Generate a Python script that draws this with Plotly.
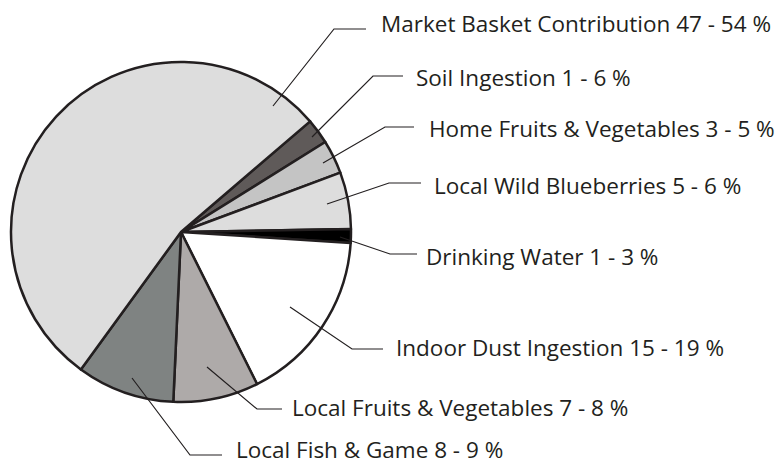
import plotly.graph_objects as go

W, H = 783, 465

# Slices in clockwise order starting at the Soil Ingestion edge
labels = ["Soil Ingestion 1 - 6 %", "Home Fruits & Vegetables 3 - 5 %",
          "Local Wild Blueberries 5 - 6 %", "Drinking Water 1 - 3 %",
          "Indoor Dust Ingestion 15 - 19 %", "Local Fruits & Vegetables 7 - 8 %",
          "Local Fish & Game 8 - 9 %", "Market Basket Contribution 47 - 54 %"]
values = [2.4, 3.2, 5.4, 1.3, 16.6, 8.1, 9.3, 53.7]
colors = ["#5f5a59", "#c4c4c4", "#dddddd", "#000000",
          "#ffffff", "#aeaaa9", "#7f8382", "#dddddd"]
start_angle = 49.4

# Label layout (pixel space): text anchor and leader line (start, kink, end)
label_text_pos = {
    "Market Basket Contribution 47 - 54 %": (379, 23),
    "Soil Ingestion 1 - 6 %": (414, 77),
    "Home Fruits & Vegetables 3 - 5 %": (427, 128),
    "Local Wild Blueberries 5 - 6 %": (432, 185),
    "Drinking Water 1 - 3 %": (424, 256),
    "Indoor Dust Ingestion 15 - 19 %": (394, 347),
    "Local Fruits & Vegetables 7 - 8 %": (290, 407),
    "Local Fish & Game 8 - 9 %": (234, 449),
}
leaders = {
    "Market Basket Contribution 47 - 54 %": [(273, 106), (334, 29), (366, 29)],
    "Soil Ingestion 1 - 6 %": [(312, 137), (373, 76), (403, 76)],
    "Home Fruits & Vegetables 3 - 5 %": [(323, 163), (385, 127), (414, 127)],
    "Local Wild Blueberries 5 - 6 %": [(327, 204), (389, 183), (421, 183)],
    "Drinking Water 1 - 3 %": [(340, 237), (390, 254), (417, 254)],
    "Indoor Dust Ingestion 15 - 19 %": [(290, 307), (352, 349), (383, 349)],
    "Local Fruits & Vegetables 7 - 8 %": [(207, 367), (257, 409), (282, 409)],
    "Local Fish & Game 8 - 9 %": [(132, 378), (190, 455), (222, 455)],
}

cx, cy, R = 181, 232, 170

fig = go.Figure()
fig.add_trace(go.Pie(
    labels=labels, values=values, sort=False, direction="clockwise",
    rotation=start_angle, textinfo="none", hoverinfo="label",
    marker=dict(colors=colors, line=dict(color="#231f20", width=2.5)),
    domain=dict(x=[(cx - R) / W, (cx + R) / W], y=[1 - (cy + R) / H, 1 - (cy - R) / H]),
    showlegend=False,
))

for lab, pts in leaders.items():
    xs = [p[0] for p in pts]
    ys = [p[1] for p in pts]
    path = "M {} {} L {} {} L {} {}".format(xs[0], ys[0], xs[1], ys[1], xs[2], ys[2])
    fig.add_shape(type="path", path=path, xref="x", yref="y",
                  line=dict(color="#231f20", width=1.2))

for lab, (tx, ty) in label_text_pos.items():
    fig.add_annotation(x=tx, y=ty, xref="x", yref="y", text=lab, showarrow=False,
                       xanchor="left", yanchor="middle",
                       font=dict(family="Open Sans", size=22.5, color="#231f20"))

fig.update_layout(
    width=W, height=H, margin=dict(l=0, r=0, t=0, b=0),
    paper_bgcolor="white", plot_bgcolor="rgba(0,0,0,0)",
    xaxis=dict(range=[0, W], visible=False, fixedrange=True),
    yaxis=dict(range=[H, 0], visible=False, fixedrange=True),
)
fig.write_html("out.html", config={"displayModeBar": False},
               post_script="document.body.style.margin='0';document.body.style.overflow='hidden';")
